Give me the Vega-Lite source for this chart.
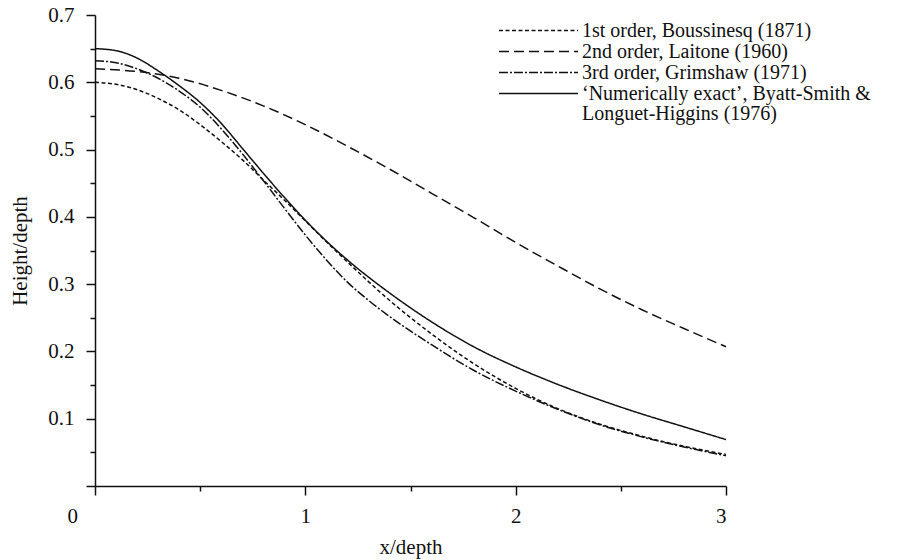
{
  "$schema": "https://vega.github.io/schema/vega-lite/v6.json",
  "autosize": "none",
  "width": 631,
  "height": 471,
  "padding": {"left": 95, "top": 15, "right": 193, "bottom": 74},
  "background": "white",
  "config": {
    "view": {"stroke": null},
    "font": "Liberation Serif",
    "axis": {
      "domainColor": "#111",
      "domainWidth": 1.5,
      "tickColor": "#111",
      "tickWidth": 1.5,
      "grid": false,
      "labelFont": "Liberation Serif",
      "labelFontSize": 21,
      "labelColor": "#111",
      "titleFont": "Liberation Serif",
      "titleFontSize": 21,
      "titleFontWeight": "normal",
      "titleColor": "#111"
    },
    "legend": {
      "labelFont": "Liberation Serif",
      "labelFontSize": 20,
      "labelColor": "#111",
      "labelLimit": 600
    }
  },
  "data": {
    "values": [
      {"series": "1st order, Boussinesq (1871)", "x": 0.0, "y": 0.600},
      {"series": "1st order, Boussinesq (1871)", "x": 0.1, "y": 0.597},
      {"series": "1st order, Boussinesq (1871)", "x": 0.2, "y": 0.589},
      {"series": "1st order, Boussinesq (1871)", "x": 0.3, "y": 0.576},
      {"series": "1st order, Boussinesq (1871)", "x": 0.4, "y": 0.559},
      {"series": "1st order, Boussinesq (1871)", "x": 0.5, "y": 0.537},
      {"series": "1st order, Boussinesq (1871)", "x": 0.6, "y": 0.512},
      {"series": "1st order, Boussinesq (1871)", "x": 0.7, "y": 0.485},
      {"series": "1st order, Boussinesq (1871)", "x": 0.8, "y": 0.455},
      {"series": "1st order, Boussinesq (1871)", "x": 0.9, "y": 0.425},
      {"series": "1st order, Boussinesq (1871)", "x": 1.0, "y": 0.394},
      {"series": "1st order, Boussinesq (1871)", "x": 1.1, "y": 0.363},
      {"series": "1st order, Boussinesq (1871)", "x": 1.2, "y": 0.333},
      {"series": "1st order, Boussinesq (1871)", "x": 1.4, "y": 0.276},
      {"series": "1st order, Boussinesq (1871)", "x": 1.6, "y": 0.226},
      {"series": "1st order, Boussinesq (1871)", "x": 1.8, "y": 0.182},
      {"series": "1st order, Boussinesq (1871)", "x": 2.0, "y": 0.145},
      {"series": "1st order, Boussinesq (1871)", "x": 2.2, "y": 0.115},
      {"series": "1st order, Boussinesq (1871)", "x": 2.4, "y": 0.092},
      {"series": "1st order, Boussinesq (1871)", "x": 2.6, "y": 0.074},
      {"series": "1st order, Boussinesq (1871)", "x": 2.8, "y": 0.059},
      {"series": "1st order, Boussinesq (1871)", "x": 3.0, "y": 0.047},

      {"series": "2nd order, Laitone (1960)", "x": 0.0, "y": 0.620},
      {"series": "2nd order, Laitone (1960)", "x": 0.2, "y": 0.616},
      {"series": "2nd order, Laitone (1960)", "x": 0.4, "y": 0.606},
      {"series": "2nd order, Laitone (1960)", "x": 0.6, "y": 0.588},
      {"series": "2nd order, Laitone (1960)", "x": 0.8, "y": 0.565},
      {"series": "2nd order, Laitone (1960)", "x": 1.0, "y": 0.537},
      {"series": "2nd order, Laitone (1960)", "x": 1.2, "y": 0.505},
      {"series": "2nd order, Laitone (1960)", "x": 1.4, "y": 0.471},
      {"series": "2nd order, Laitone (1960)", "x": 1.6, "y": 0.435},
      {"series": "2nd order, Laitone (1960)", "x": 1.8, "y": 0.399},
      {"series": "2nd order, Laitone (1960)", "x": 2.0, "y": 0.362},
      {"series": "2nd order, Laitone (1960)", "x": 2.2, "y": 0.327},
      {"series": "2nd order, Laitone (1960)", "x": 2.4, "y": 0.293},
      {"series": "2nd order, Laitone (1960)", "x": 2.6, "y": 0.262},
      {"series": "2nd order, Laitone (1960)", "x": 2.8, "y": 0.234},
      {"series": "2nd order, Laitone (1960)", "x": 3.0, "y": 0.207},

      {"series": "3rd order, Grimshaw (1971)", "x": 0.0, "y": 0.632},
      {"series": "3rd order, Grimshaw (1971)", "x": 0.1, "y": 0.629},
      {"series": "3rd order, Grimshaw (1971)", "x": 0.2, "y": 0.620},
      {"series": "3rd order, Grimshaw (1971)", "x": 0.3, "y": 0.606},
      {"series": "3rd order, Grimshaw (1971)", "x": 0.4, "y": 0.587},
      {"series": "3rd order, Grimshaw (1971)", "x": 0.5, "y": 0.563},
      {"series": "3rd order, Grimshaw (1971)", "x": 0.6, "y": 0.531},
      {"series": "3rd order, Grimshaw (1971)", "x": 0.7, "y": 0.494},
      {"series": "3rd order, Grimshaw (1971)", "x": 0.8, "y": 0.454},
      {"series": "3rd order, Grimshaw (1971)", "x": 0.9, "y": 0.413},
      {"series": "3rd order, Grimshaw (1971)", "x": 1.0, "y": 0.373},
      {"series": "3rd order, Grimshaw (1971)", "x": 1.1, "y": 0.336},
      {"series": "3rd order, Grimshaw (1971)", "x": 1.2, "y": 0.303},
      {"series": "3rd order, Grimshaw (1971)", "x": 1.3, "y": 0.276},
      {"series": "3rd order, Grimshaw (1971)", "x": 1.4, "y": 0.252},
      {"series": "3rd order, Grimshaw (1971)", "x": 1.6, "y": 0.210},
      {"series": "3rd order, Grimshaw (1971)", "x": 1.8, "y": 0.172},
      {"series": "3rd order, Grimshaw (1971)", "x": 2.0, "y": 0.141},
      {"series": "3rd order, Grimshaw (1971)", "x": 2.2, "y": 0.114},
      {"series": "3rd order, Grimshaw (1971)", "x": 2.4, "y": 0.091},
      {"series": "3rd order, Grimshaw (1971)", "x": 2.6, "y": 0.073},
      {"series": "3rd order, Grimshaw (1971)", "x": 2.8, "y": 0.058},
      {"series": "3rd order, Grimshaw (1971)", "x": 3.0, "y": 0.045},

      {"series": "‘Numerically exact’, Byatt-Smith & Longuet-Higgins (1976)", "x": 0.0, "y": 0.650},
      {"series": "‘Numerically exact’, Byatt-Smith & Longuet-Higgins (1976)", "x": 0.1, "y": 0.647},
      {"series": "‘Numerically exact’, Byatt-Smith & Longuet-Higgins (1976)", "x": 0.2, "y": 0.636},
      {"series": "‘Numerically exact’, Byatt-Smith & Longuet-Higgins (1976)", "x": 0.3, "y": 0.617},
      {"series": "‘Numerically exact’, Byatt-Smith & Longuet-Higgins (1976)", "x": 0.4, "y": 0.595},
      {"series": "‘Numerically exact’, Byatt-Smith & Longuet-Higgins (1976)", "x": 0.5, "y": 0.570},
      {"series": "‘Numerically exact’, Byatt-Smith & Longuet-Higgins (1976)", "x": 0.6, "y": 0.539},
      {"series": "‘Numerically exact’, Byatt-Smith & Longuet-Higgins (1976)", "x": 0.7, "y": 0.502},
      {"series": "‘Numerically exact’, Byatt-Smith & Longuet-Higgins (1976)", "x": 0.8, "y": 0.465},
      {"series": "‘Numerically exact’, Byatt-Smith & Longuet-Higgins (1976)", "x": 0.9, "y": 0.429},
      {"series": "‘Numerically exact’, Byatt-Smith & Longuet-Higgins (1976)", "x": 1.0, "y": 0.395},
      {"series": "‘Numerically exact’, Byatt-Smith & Longuet-Higgins (1976)", "x": 1.1, "y": 0.364},
      {"series": "‘Numerically exact’, Byatt-Smith & Longuet-Higgins (1976)", "x": 1.2, "y": 0.336},
      {"series": "‘Numerically exact’, Byatt-Smith & Longuet-Higgins (1976)", "x": 1.4, "y": 0.287},
      {"series": "‘Numerically exact’, Byatt-Smith & Longuet-Higgins (1976)", "x": 1.6, "y": 0.244},
      {"series": "‘Numerically exact’, Byatt-Smith & Longuet-Higgins (1976)", "x": 1.8, "y": 0.207},
      {"series": "‘Numerically exact’, Byatt-Smith & Longuet-Higgins (1976)", "x": 2.0, "y": 0.177},
      {"series": "‘Numerically exact’, Byatt-Smith & Longuet-Higgins (1976)", "x": 2.2, "y": 0.151},
      {"series": "‘Numerically exact’, Byatt-Smith & Longuet-Higgins (1976)", "x": 2.4, "y": 0.128},
      {"series": "‘Numerically exact’, Byatt-Smith & Longuet-Higgins (1976)", "x": 2.6, "y": 0.107},
      {"series": "‘Numerically exact’, Byatt-Smith & Longuet-Higgins (1976)", "x": 2.8, "y": 0.088},
      {"series": "‘Numerically exact’, Byatt-Smith & Longuet-Higgins (1976)", "x": 3.0, "y": 0.069}
    ]
  },
  "mark": {"type": "line", "interpolate": "monotone", "color": "#111", "strokeWidth": 1.5},
  "encoding": {
    "x": {
      "field": "x",
      "type": "quantitative",
      "scale": {"domain": [0, 3], "nice": false, "zero": false},
      "axis": {
        "title": "x/depth",
        "values": [0, 0.5, 1, 1.5, 2, 2.5, 3],
        "labelExpr": "datum.value % 1 === 0 ? format(datum.value, 'd') : ''",
        "labelOffset": {"condition": {"test": "datum.value === 0", "value": -28}, "value": 0},
        "tickSize": {"condition": {"test": "datum.value % 1 !== 0", "value": 5}, "value": 9},
        "labelPadding": 10,
        "titlePadding": 10
      }
    },
    "y": {
      "field": "y",
      "type": "quantitative",
      "scale": {"domain": [0, 0.7], "nice": false},
      "axis": {
        "title": "Height/depth",
        "values": [0, 0.05, 0.1, 0.15, 0.2, 0.25, 0.3, 0.35, 0.4, 0.45, 0.5, 0.55, 0.6, 0.65, 0.7],
        "labelExpr": "datum.value > 0.01 && abs(datum.value * 10 - round(datum.value * 10)) < 0.001 ? format(datum.value, '.1f') : ''",
        "tickSize": {"condition": {"test": "abs(datum.value * 10 - round(datum.value * 10)) > 0.01", "value": 5}, "value": 9},
        "labelPadding": 12,
        "titlePadding": 17
      }
    },
    "strokeDash": {
      "field": "series",
      "type": "nominal",
      "scale": {
        "domain": [
          "1st order, Boussinesq (1871)",
          "2nd order, Laitone (1960)",
          "3rd order, Grimshaw (1971)",
          "‘Numerically exact’, Byatt-Smith & Longuet-Higgins (1976)"
        ],
        "range": [[4, 2.5], [10, 5], [9, 2, 2, 2], [1, 0]]
      },
      "legend": {
        "title": null,
        "orient": "none",
        "legendX": 403,
        "legendY": -25,
        "gridAlign": "none",
        "symbolType": "stroke",
        "symbolSize": 6241,
        "symbolStrokeColor": "#111",
        "symbolStrokeWidth": 1.5,
        "rowPadding": -30,
        "labelOffset": 3,
        "labelExpr": "indexof(datum.label, 'Numerically') >= 0 ? ['‘Numerically exact’, Byatt-Smith &', 'Longuet-Higgins (1976)'] : datum.label",
        "encode": {"labels": {"update": {"lineHeight": {"value": 20}}}}
      }
    }
  }
}
